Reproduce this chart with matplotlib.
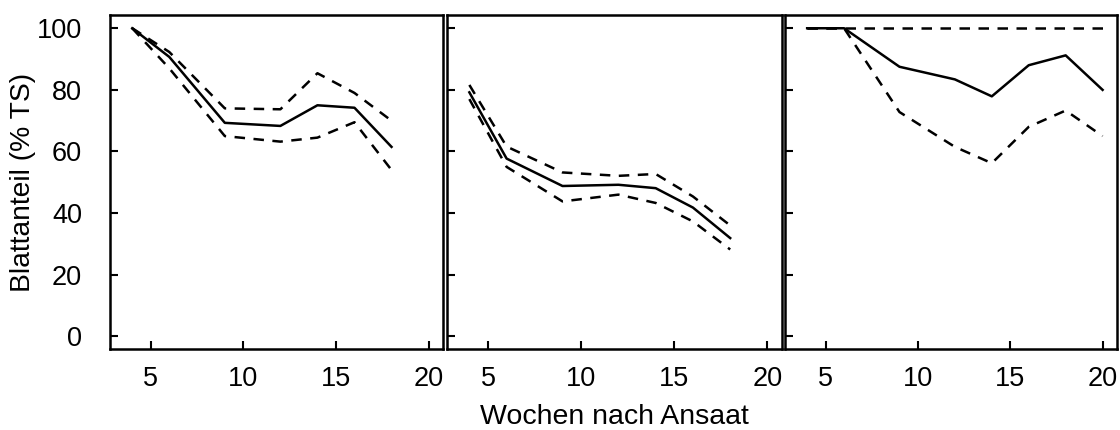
import matplotlib
matplotlib.use('Agg')
from matplotlib import pyplot as plt

# weeks after sowing
weeks = [4, 6, 9, 12, 14, 16, 18]
weeks3 = [4, 6, 9, 12, 14, 16, 18, 20]

# leaf share (% DM), mean and bounds per panel
p1_mid = [100, 90.7, 69.3, 68.3, 75.0, 74.2, 61.5]
p1_upper = [100, 92.3, 74.0, 73.7, 85.4, 79.0, 70.0]
p1_lower = [100, 87.0, 65.0, 63.2, 64.5, 69.5, 54.0]

p2_mid = [79.2, 57.7, 48.8, 49.2, 48.1, 41.8, 31.9]
p2_upper = [81.6, 61.6, 53.2, 52.1, 52.7, 45.4, 36.0]
p2_lower = [77.0, 55.0, 43.8, 46.0, 43.3, 37.3, 28.2]

p3_mid = [100, 100, 87.5, 83.4, 77.9, 88.0, 91.2, 80.0]
p3_upper = [100, 100, 100, 100, 100, 100, 100, 100]
p3_lower = [100, 100, 72.8, 61.5, 56.2, 68.0, 73.3, 65.0]

xticks = [5, 10, 15, 20]
yticks = [0, 20, 40, 60, 80, 100]

plt.rcParams['font.family'] = ['Liberation Sans', 'DejaVu Sans']
plt.rcParams['font.size'] = 19.5

W, H = 1120, 430
fig = plt.figure(figsize=(W / 100, H / 100), dpi=100)

# panel edges in pixels: left, right
edges = [(110, 443), (447, 782), (785, 1117)]
top, bottom = 15, 349

panels = [
    (weeks, p1_mid, p1_upper, p1_lower),
    (weeks, p2_mid, p2_upper, p2_lower),
    (weeks3, p3_mid, p3_upper, p3_lower),
]

dash = (0, (4.2, 3.4))
axes = []
for i, (l, r) in enumerate(edges):
    ax = fig.add_axes([l / W, 1 - bottom / H, (r - l) / W, (bottom - top) / H])
    x, mid, up, lo = panels[i]
    ax.plot(x, mid, color='black', lw=1.8)
    ax.plot(x, up, color='black', lw=1.8, linestyle=dash)
    ax.plot(x, lo, color='black', lw=1.8, linestyle=dash)
    ax.set_xlim(2.8, 20.78)
    ax.set_ylim(-4.1, 104.3)
    ax.set_xticks(xticks)
    ax.set_yticks(yticks)
    for s in ax.spines.values():
        s.set_linewidth(1.8)
    ax.tick_params(direction='in', length=6, width=1.5)
    ax.tick_params(axis='x', pad=12)
    ax.tick_params(axis='y', pad=20)
    if i > 0:
        ax.set_yticklabels([])
    axes.append(ax)

fig.text(23 / W, 1 - 182 / H, 'Blattanteil (% TS)', rotation=90,
         ha='center', va='center', fontsize=20.3)
fig.text(614 / W, 1 - 417 / H, 'Wochen nach Ansaat',
         ha='center', va='center', fontsize=20.5)

fig.savefig('out.png', dpi=100)
